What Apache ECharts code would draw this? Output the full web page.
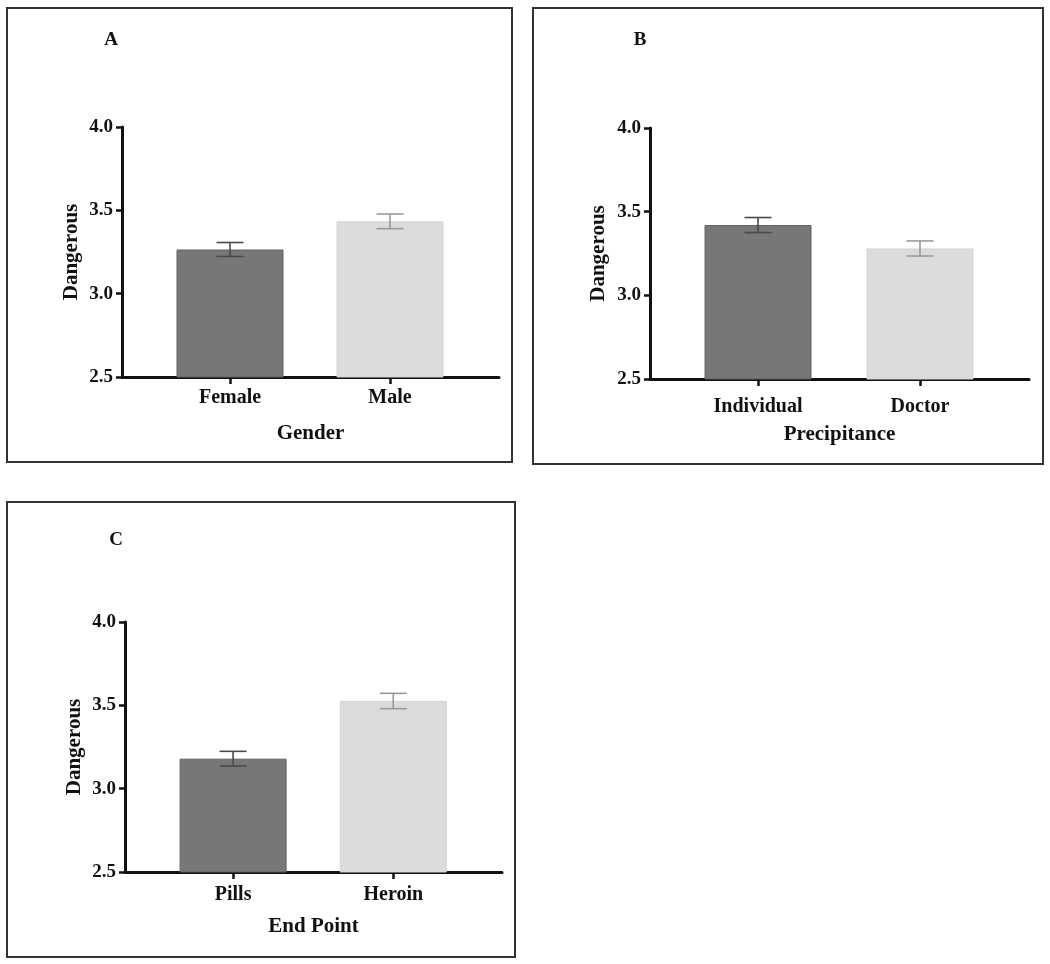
<!DOCTYPE html>
<html>
<head>
<meta charset="utf-8">
<script src="https://cdn.jsdelivr.net/npm/echarts@6/dist/echarts.min.js"></script>
<style>
  html, body { margin: 0; padding: 0; background: #fff; }
  #chart { width: 1050px; height: 964px; }
</style>
</head>
<body>
<div id="chart"></div>
<script>
// ---- data ----
const categoriesA = ['Female', 'Male'];
const valuesA = [3.265, 3.434];
const errorsA = [0.042, 0.044];

const categoriesB = ['Individual', 'Doctor'];
const valuesB = [3.42, 3.28];
const errorsB = [0.045, 0.045];

const categoriesC = ['Pills', 'Heroin'];
const valuesC = [3.18, 3.526];
const errorsC = [0.044, 0.046];

const yTicks = [2.5, 3.0, 3.5, 4.0];
const axisNamesX = ['Gender', 'Precipitance', 'End Point'];
const axisNameY = 'Dangerous';
const panelLetters = ['A', 'B', 'C'];

// ---- styles ----
const FONT = "'Liberation Serif', 'Times New Roman', serif";
const barFills = ['#777777', '#dcdcdc'];
const barBorders = ['#626262', '#d4d4d4'];
const errColors = ['#4a4a4a', '#9a9a9a'];

const panels = [
  { cats: categoriesA, vals: valuesA, errs: errorsA, grid: { left: 122, top: 127, width: 377, height: 250 }, xmin: -0.675, xmax: 1.681, labelMargin: 11, nameGap: 46, yNameGap: 40 },
  { cats: categoriesB, vals: valuesB, errs: errorsB, grid: { left: 650, top: 128, width: 379, height: 251 }, xmin: -0.667, xmax: 1.673, labelMargin: 18, nameGap: 45, yNameGap: 41 },
  { cats: categoriesC, vals: valuesC, errs: errorsC, grid: { left: 125, top: 622, width: 377, height: 250 }, xmin: -0.675, xmax: 1.679, labelMargin: 13, nameGap: 44, yNameGap: 40 }
];

const grids = [], xAxes = [], yAxes = [], series = [];
const axisLineStyle = { color: '#111', width: 3 };

panels.forEach((p, k) => {
  grids.push(Object.assign({ containLabel: false }, p.grid));
  xAxes.push({
    type: 'value', gridIndex: k, min: p.xmin, max: p.xmax,
    splitLine: { show: false },
    axisLine: { show: true, onZero: false, lineStyle: axisLineStyle },
    axisTick: { show: true, customValues: [0, 1], length: 7, lineStyle: { color: '#111', width: 2.5 } },
    axisLabel: {
      customValues: [0, 1], margin: p.labelMargin,
      formatter: v => p.cats[Math.round(v)],
      fontFamily: FONT, fontWeight: 'bold', fontSize: 20, color: '#111'
    },
    name: axisNamesX[k], nameLocation: 'middle', nameGap: p.nameGap,
    nameTextStyle: { fontFamily: FONT, fontWeight: 'bold', fontSize: 21, color: '#111' }
  });
  yAxes.push({
    type: 'value', gridIndex: k, min: yTicks[0], max: yTicks[yTicks.length - 1], interval: 0.5,
    splitLine: { show: false },
    axisLine: { show: true, onZero: false, lineStyle: axisLineStyle },
    axisTick: { show: true, length: 6, lineStyle: { color: '#111', width: 2.5 } },
    axisLabel: {
      margin: 9, formatter: v => v.toFixed(1),
      fontFamily: FONT, fontWeight: 'bold', fontSize: 19, color: '#111'
    },
    name: axisNameY, nameLocation: 'middle', nameGap: p.yNameGap, nameRotate: 90,
    nameTextStyle: { fontFamily: FONT, fontWeight: 'bold', fontSize: 21, color: '#111' }
  });
  series.push({
    type: 'bar', xAxisIndex: k, yAxisIndex: k, barWidth: 107, z: 2,
    data: p.vals.map((v, i) => ({
      value: [i, v],
      itemStyle: { color: barFills[i], borderColor: barBorders[i], borderWidth: 1 }
    })),
    emphasis: { disabled: true }, silent: true
  });
  series.push({
    type: 'custom', xAxisIndex: k, yAxisIndex: k, z: 5, silent: true,
    data: p.vals.map((v, i) => [i, v, p.errs[i]]),
    renderItem: (params, api) => {
      const i = api.value(0), v = api.value(1), e = api.value(2);
      const hi = api.coord([i, v + e]);
      const lo = api.coord([i, v - e]);
      const half = 13.5;
      const style = { stroke: errColors[i], lineWidth: 1.6, fill: null };
      return {
        type: 'group',
        children: [
          { type: 'line', shape: { x1: hi[0], y1: hi[1], x2: lo[0], y2: lo[1] }, style },
          { type: 'line', shape: { x1: hi[0] - half, y1: hi[1], x2: hi[0] + half, y2: hi[1] }, style },
          { type: 'line', shape: { x1: lo[0] - half, y1: lo[1], x2: lo[0] + half, y2: lo[1] }, style }
        ]
      };
    }
  });
});

const frames = [
  { x: 7, y: 8, w: 505, h: 454 },
  { x: 533, y: 8, w: 510, h: 456 },
  { x: 7, y: 502, w: 508, h: 455 }
];
const letterPos = [[111, 40], [640, 40], [116, 540]];

const graphic = [];
frames.forEach(f => graphic.push({
  type: 'rect', silent: true, z: 0,
  shape: { x: f.x, y: f.y, width: f.w, height: f.h },
  style: { fill: null, stroke: '#333', lineWidth: 2 }
}));
panelLetters.forEach((t, k) => graphic.push({
  type: 'text', silent: true, x: letterPos[k][0], y: letterPos[k][1],
  style: { text: t, fontFamily: FONT, fontWeight: 'bold', fontSize: 19, fill: '#111', align: 'center', verticalAlign: 'middle' }
}));

const chart = echarts.init(document.getElementById('chart'), null, { renderer: 'canvas' });
chart.setOption({
  animation: false,
  backgroundColor: '#fff',
  grid: grids, xAxis: xAxes, yAxis: yAxes, series, graphic
});
</script>
</body>
</html>
